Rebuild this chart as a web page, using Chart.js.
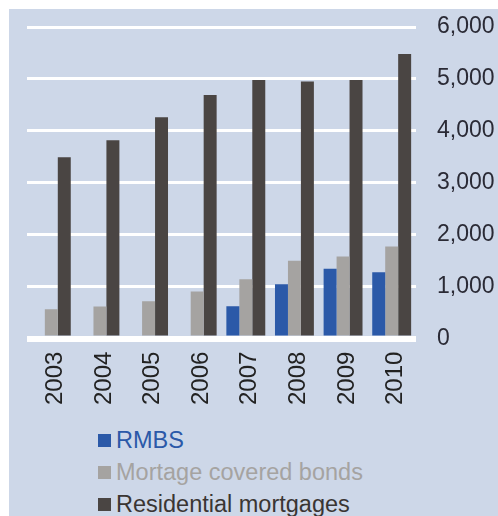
<!DOCTYPE html>
<html>
<head>
<meta charset="utf-8">
<script src="https://cdn.jsdelivr.net/npm/chart.js@4"></script>
<style>
  html, body { margin: 0; padding: 0; background: #ffffff; width: 498px; height: 516px; overflow: hidden; }
  #bg { position: absolute; left: 9px; top: 9px; width: 489px; height: 507px; background: #cdd7e8; }
  #wrap { position: absolute; left: 0; top: 0; width: 498px; height: 410px; }
  #legend { position: absolute; left: 98px; top: 424px; font-family: "Liberation Sans", Arial, sans-serif; font-size: 23.5px; }
  .item { height: 32px; line-height: 32px; white-space: nowrap; display: flex; align-items: center; }
  .box { width: 13px; height: 13px; margin-right: 5px; display: inline-block; }
</style>
</head>
<body>
<div id="bg"></div>
<div id="wrap"><canvas id="c" width="498" height="410"></canvas></div>
<div id="legend"></div>
<script>
const categories = ["2003", "2004", "2005", "2006", "2007", "2008", "2009", "2010"];
const rmbs = [null, null, null, null, 624, 1048, 1345, 1280];
const coveredBonds = [565, 617, 720, 907, 1145, 1499, 1582, 1775];
const residentialMortgages = [3490, 3820, 4260, 4690, 4980, 4950, 4980, 5480];
const seriesNames = ["RMBS", "Mortage covered bonds", "Residential mortgages"];
const yTicks = [0, 1000, 2000, 3000, 4000, 5000, 6000];

const colors = ["#2b59a8", "#a5a3a1", "#4a4543"];
const textColors = ["#2b59a8", "#a5a3a1", "#3a3533"];

const ds = [rmbs, coveredBonds, residentialMortgages].map((d, i) => ({
  label: seriesNames[i],
  data: d,
  backgroundColor: colors[i],
  borderWidth: 0,
  categoryPercentage: 0.8,
  barPercentage: 1.0
}));

new Chart(document.getElementById('c'), {
  type: 'bar',
  data: { labels: categories, datasets: ds },
  options: {
    responsive: false,
    animation: false,
    layout: { padding: { left: 27, top: 27, right: 3, bottom: 0 } },
    plugins: { legend: { display: false }, tooltip: { enabled: false } },
    scales: {
      x: {
        grid: { display: false },
        border: { display: false },
        ticks: {
          color: '#222222',
          font: { family: '"Liberation Sans", Arial, sans-serif', size: 24 },
          minRotation: 90, maxRotation: 90,
          padding: 5,
          labelOffset: 4
        }
      },
      y: {
        position: 'right',
        min: 0, max: 6000,
        afterBuildTicks: (axis) => { axis.ticks = yTicks.map(v => ({ value: v })); },
        afterFit: (axis) => { axis.width = 79; },
        grid: {
          color: '#ffffff',
          lineWidth: (ctx) => (ctx.tick && ctx.tick.value === 0 ? 6 : 3),
          drawTicks: true,
          tickLength: 21,
          tickColor: 'rgba(0,0,0,0)'
        },
        border: { display: false },
        ticks: {
          color: '#2a2a35',
          font: { family: '"Liberation Sans", Arial, sans-serif', size: 23 },
          padding: 0,
          callback: (v) => v.toLocaleString('en-US')
        }
      }
    }
  }
});

const leg = document.getElementById('legend');
seriesNames.forEach((n, i) => {
  const row = document.createElement('div');
  row.className = 'item';
  const b = document.createElement('span');
  b.className = 'box';
  b.style.background = colors[i];
  const t = document.createElement('span');
  t.textContent = n;
  t.style.color = textColors[i];
  row.appendChild(b); row.appendChild(t);
  leg.appendChild(row);
});
</script>
</body>
</html>
